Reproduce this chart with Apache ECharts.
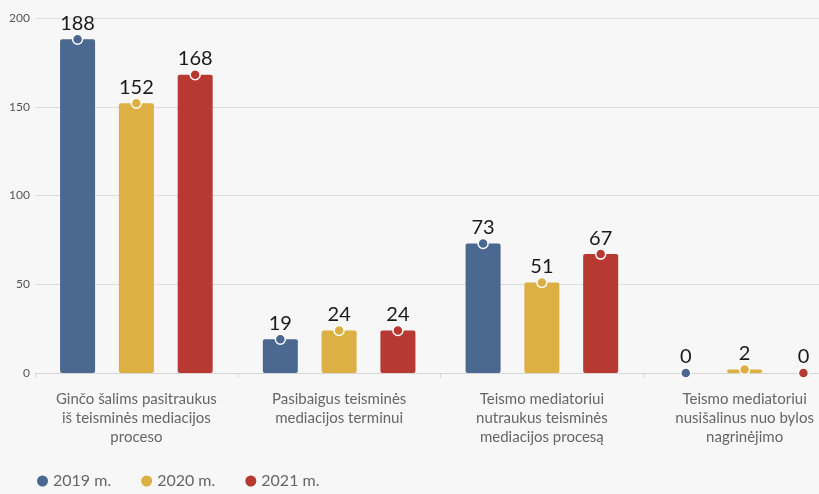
<!DOCTYPE html>
<html>
<head>
<meta charset="utf-8">
<script src="https://cdn.jsdelivr.net/npm/echarts@6/dist/echarts.min.js"></script>
<style>
  html, body { margin: 0; padding: 0; background: #f7f7f7; }
  #chart { width: 819px; height: 494px; }
</style>
</head>
<body>
<div id="chart"></div>
<script>
const categories = [
  'Ginčo šalims pasitraukus\niš teisminės mediacijos\nproceso',
  'Pasibaigus teisminės\nmediacijos terminui',
  'Teismo mediatoriui\nnutraukus teisminės\nmediacijos procesą',
  'Teismo mediatoriui\nnusišalinus nuo bylos\nnagrinėjimo'
]
const years = ['2019 m.', '2020 m.', '2021 m.']
const values2019 = [188, 19, 73, 0]
const values2020 = [152, 24, 51, 2]
const values2021 = [168, 24, 67, 0]
const colors = ['#4a6890', '#dcb043', '#b83832']

const chart = echarts.init(document.getElementById('chart'))

function barSeries(name, data, color) {
  return {
    name,
    type: 'bar',
    data,
    barWidth: 35,
    barGap: '68%',
    itemStyle: { color, borderRadius: 2 },
    label: {
      show: true,
      position: 'top',
      distance: 6,
      color: '#1a1a1a',
      fontSize: 20,
      fontFamily: 'Lato'
    },
    markPoint: {
      symbol: 'circle',
      symbolSize: 10,
      label: { show: false },
      itemStyle: { color, borderColor: '#fff', borderWidth: 1.5 },
      data: data.map((v, i) => ({ coord: [i, v] }))
    }
  }
}

chart.setOption({
  backgroundColor: '#f7f7f7',
  color: colors,
  animation: false,
  textStyle: { fontFamily: 'Lato' },
  // the plot runs past the right edge of the picture
  grid: { left: 35, width: 811, top: 18, bottom: 121, outerBoundsMode: 'none' },
  legend: {
    left: 32,
    bottom: 0,
    icon: 'circle',
    itemWidth: 11,
    itemHeight: 11,
    itemGap: 30,
    textStyle: { color: '#666', fontSize: 16, fontFamily: 'Lato' },
    data: years
  },
  xAxis: {
    type: 'category',
    data: categories,
    axisLine: { lineStyle: { color: '#d6d6d6' } },
    axisTick: { show: true, length: 5, lineStyle: { color: '#d6d6d6' } },
    axisLabel: {
      color: '#666',
      fontSize: 15,
      lineHeight: 19,
      margin: 17,
      interval: 0,
      fontFamily: 'Lato'
    }
  },
  yAxis: {
    type: 'value',
    min: 0,
    max: 200,
    interval: 50,
    axisLine: { show: false },
    axisTick: { show: false },
    splitLine: { lineStyle: { color: '#dedede' } },
    axisLabel: { color: '#555', fontSize: 12, margin: 5, fontFamily: 'Lato' }
  },
  series: [
    barSeries(years[0], values2019, colors[0]),
    barSeries(years[1], values2020, colors[1]),
    barSeries(years[2], values2021, colors[2])
  ]
})
</script>
</body>
</html>
